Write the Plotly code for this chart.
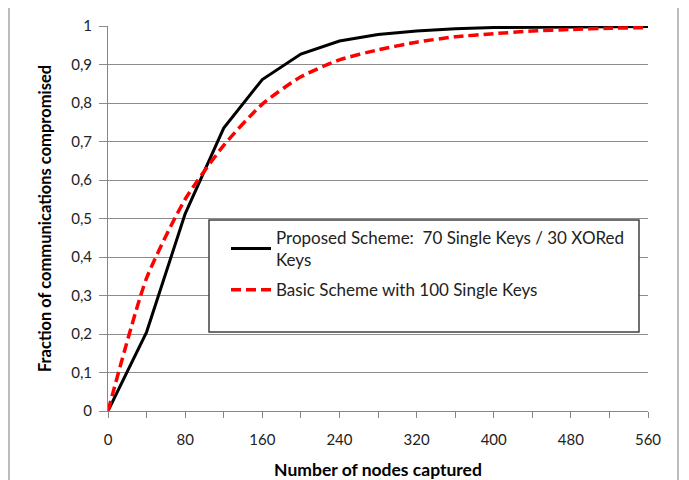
import plotly.graph_objects as go

nodes = [0, 40, 80, 120, 160, 200, 240, 280, 320, 360, 400, 440, 480, 520, 560]
proposed = [0, 0.205, 0.512, 0.735, 0.861, 0.927, 0.961, 0.978, 0.987, 0.993, 0.996, 0.997, 0.998, 0.998, 0.999]
basic = [0, 0.345, 0.55, 0.69, 0.797, 0.868, 0.912, 0.938, 0.958, 0.972, 0.98, 0.987, 0.991, 0.994, 0.996]

x_ticks = [0, 80, 160, 240, 320, 400, 480, 560]
x_minor = [40, 120, 200, 280, 360, 440, 520]
y_ticks = [0, 0.1, 0.2, 0.3, 0.4, 0.5, 0.6, 0.7, 0.8, 0.9, 1]
y_labels = ["0", "0,1", "0,2", "0,3", "0,4", "0,5", "0,6", "0,7", "0,8", "0,9", "1"]

name_proposed = "Proposed Scheme:  70 Single Keys / 30 XORed<br>Keys"
name_basic = "Basic Scheme with 100 Single Keys"

FONT = "Lato"
OFF = 8  # page body margin offset
W, H = 689 - OFF, 480 - OFF
L, R, T, B = 108 - OFF, 41, 26 - OFF, 77 - OFF
pw, ph = W - L - R, H - T - B

def px(xp):
    return (xp - OFF - L) / pw

def py(yp):
    return (H - B - (yp - OFF)) / ph

fig = go.Figure()
fig.add_trace(go.Scatter(x=nodes, y=proposed, mode="lines", name=name_proposed, legendgroup="p",
                         line=dict(color="black", width=3)))
fig.add_trace(go.Scatter(x=nodes, y=basic, mode="lines", name=name_basic, legendgroup="b",
                         line=dict(color="#ff0000", width=3.5, dash="10px,5px", shape="spline", smoothing=0.6)))

fig.update_layout(
    width=W, height=H,
    margin=dict(l=L, r=R, t=T, b=B, autoexpand=False),
    paper_bgcolor="white", plot_bgcolor="white",
    font=dict(family=FONT, size=15, color="#222222"),
    showlegend=True,
    legend=dict(x=px(226), y=py(220), xanchor="left", yanchor="top",
                bgcolor="rgba(0,0,0,0)", borderwidth=0,
                font=dict(family=FONT, size=17, color="#222222"),
                tracegroupgap=5, itemwidth=40),
    xaxis=dict(range=[0, 560], tickvals=x_ticks, ticktext=[str(v) for v in x_ticks],
               showgrid=False, zeroline=False, showline=True, linecolor="#868686", linewidth=1,
               ticks="outside", ticklen=6, tickcolor="#868686", ticklabelstandoff=9,
               minor=dict(tickvals=x_minor, ticks="outside", ticklen=6, tickcolor="#868686"),
               tickfont=dict(family=FONT, size=15, color="#222222"),
               title=dict(text="<b>Number of nodes captured</b>", standoff=20,
                          font=dict(family=FONT, size=17.5, color="black"))),
    yaxis=dict(range=[0, 1], tickvals=y_ticks, ticktext=y_labels,
               showgrid=True, gridcolor="#8c8c8c", gridwidth=1, zeroline=False,
               showline=True, linecolor="#868686", linewidth=1,
               ticks="outside", ticklen=8, tickcolor="#8c8c8c", ticklabelstandoff=4,
               tickfont=dict(family=FONT, size=15, color="#222222"),
               title=dict(text="<b>Fraction of communications compromised</b>", standoff=15,
                          font=dict(family=FONT, size=16.5, color="black"))),
    shapes=[
        dict(type="rect", xref="paper", yref="paper",
             x0=px(209), x1=px(639), y0=py(332), y1=py(220),
             line=dict(color="#404040", width=1.5), fillcolor="white", layer="above"),
        dict(type="rect", xref="paper", yref="paper",
             x0=px(9), x1=px(678), y0=py(520), y1=py(6.5),
             line=dict(color="#a6a6a6", width=1.5), fillcolor="rgba(0,0,0,0)", layer="below"),
    ],
)

fig.write_html("out.html")
